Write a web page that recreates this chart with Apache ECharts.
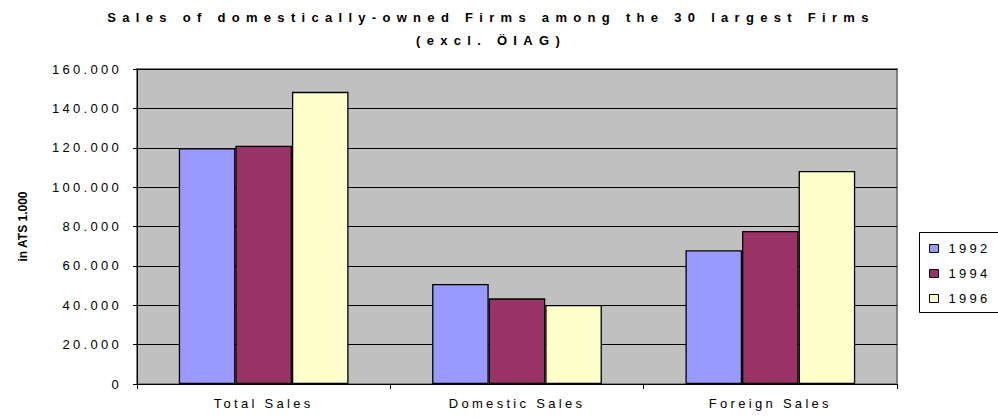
<!DOCTYPE html>
<html>
<head>
<meta charset="utf-8">
<script src="https://cdn.jsdelivr.net/npm/echarts@6/dist/echarts.min.js"></script>
<style>
html,body{margin:0;padding:0;background:#fff;}
#c{width:998px;height:419px;}
</style>
</head>
<body>
<div id="c"></div>
<script>
const categories = ['Total Sales', 'Domestic Sales', 'Foreign Sales'];
const seriesNames = ['1992', '1994', '1996'];
const values1992 = [119800, 50800, 67900];
const values1994 = [121000, 43500, 77700];
const values1996 = [148400, 40100, 108200];
const seriesColors = ['#9999FF', '#993366', '#FFFFCC'];
const yTicks = {min: 0, max: 160000, interval: 20000};
const titleText = 'Sales of domestically-owned Firms among the 30 largest Firms\n(excl. ÖIAG)';
const yAxisName = 'in ATS 1.000';

const allValues = [values1992, values1994, values1996];
const FONT = 'Arial, "Liberation Sans", sans-serif';

function fmt(v) {
  return String(v).replace(/\B(?=(\d{3})+(?!\d))/g, '.');
}

const chart = echarts.init(document.getElementById('c'), null, {renderer: 'svg'});
chart.setOption({
  animation: false,
  backgroundColor: '#fff',
  title: {
    text: titleText,
    left: 486,
    top: 1,
    textAlign: 'center',
    textStyle: {fontFamily: FONT, fontSize: 13, fontWeight: 'bold', color: '#000', lineHeight: 23}
  },
  legend: {
    orient: 'vertical',
    left: 924,
    top: 236,
    itemWidth: 9,
    itemHeight: 8,
    itemGap: 10,
    icon: 'rect',
    data: seriesNames.map((n, i) => ({
      name: n,
      itemStyle: {color: seriesColors[i], borderColor: '#000', borderWidth: 1}
    })),
    textStyle: {fontFamily: FONT, fontSize: 13, color: '#000', lineHeight: 15, padding: [0, 0, 0, 5]}
  },
  graphic: [{
    type: 'rect',
    left: 917, top: 230,
    shape: {width: 80, height: 80},
    style: {fill: 'none', stroke: '#000', lineWidth: 1},
    z: 100
  }],
  grid: {
    left: 137, right: 101, top: 69, bottom: 35,
    show: true,
    backgroundColor: '#C0C0C0',
    borderColor: '#808080',
    borderWidth: 2
  },
  xAxis: {
    type: 'category',
    data: categories,
    axisLine: {lineStyle: {color: '#000', width: 1}},
    axisTick: {show: true, length: 5, lineStyle: {color: '#000'}},
    axisLabel: {fontFamily: FONT, fontSize: 13, color: '#000', margin: 13}
  },
  yAxis: {
    type: 'value',
    min: yTicks.min, max: yTicks.max, interval: yTicks.interval,
    name: yAxisName,
    nameLocation: 'middle',
    nameRotate: 90,
    nameGap: 108,
    nameTextStyle: {fontFamily: FONT, fontSize: 12, fontWeight: 'bold', color: '#000'},
    axisLine: {show: true, lineStyle: {color: '#000', width: 1}},
    axisTick: {show: true, length: 4, lineStyle: {color: '#000'}},
    axisLabel: {fontFamily: FONT, fontSize: 13, color: '#000', margin: 15, formatter: fmt},
    splitLine: {show: true, lineStyle: {color: '#000', width: 1}}
  },
  series: seriesNames.map((n, i) => ({
    name: n,
    type: 'bar',
    data: allValues[i],
    barGap: '0%',
    barCategoryGap: '33%',
    itemStyle: {color: seriesColors[i], borderColor: '#000', borderWidth: 1.3}
  }))
});

function spaceText() {
  document.querySelectorAll('#c text').forEach(t => {
    const s = t.textContent || '';
    if (s.indexOf('ATS') >= 0) { t.style.letterSpacing = '0px'; }
    else if (s.indexOf('Firms') >= 0 || s.indexOf('excl') >= 0) { t.style.letterSpacing = '6.3px'; }
    else { t.style.letterSpacing = '3.3px'; }
  });
}
chart.on('finished', spaceText);
spaceText();
setTimeout(spaceText, 50);
</script>
</body>
</html>
